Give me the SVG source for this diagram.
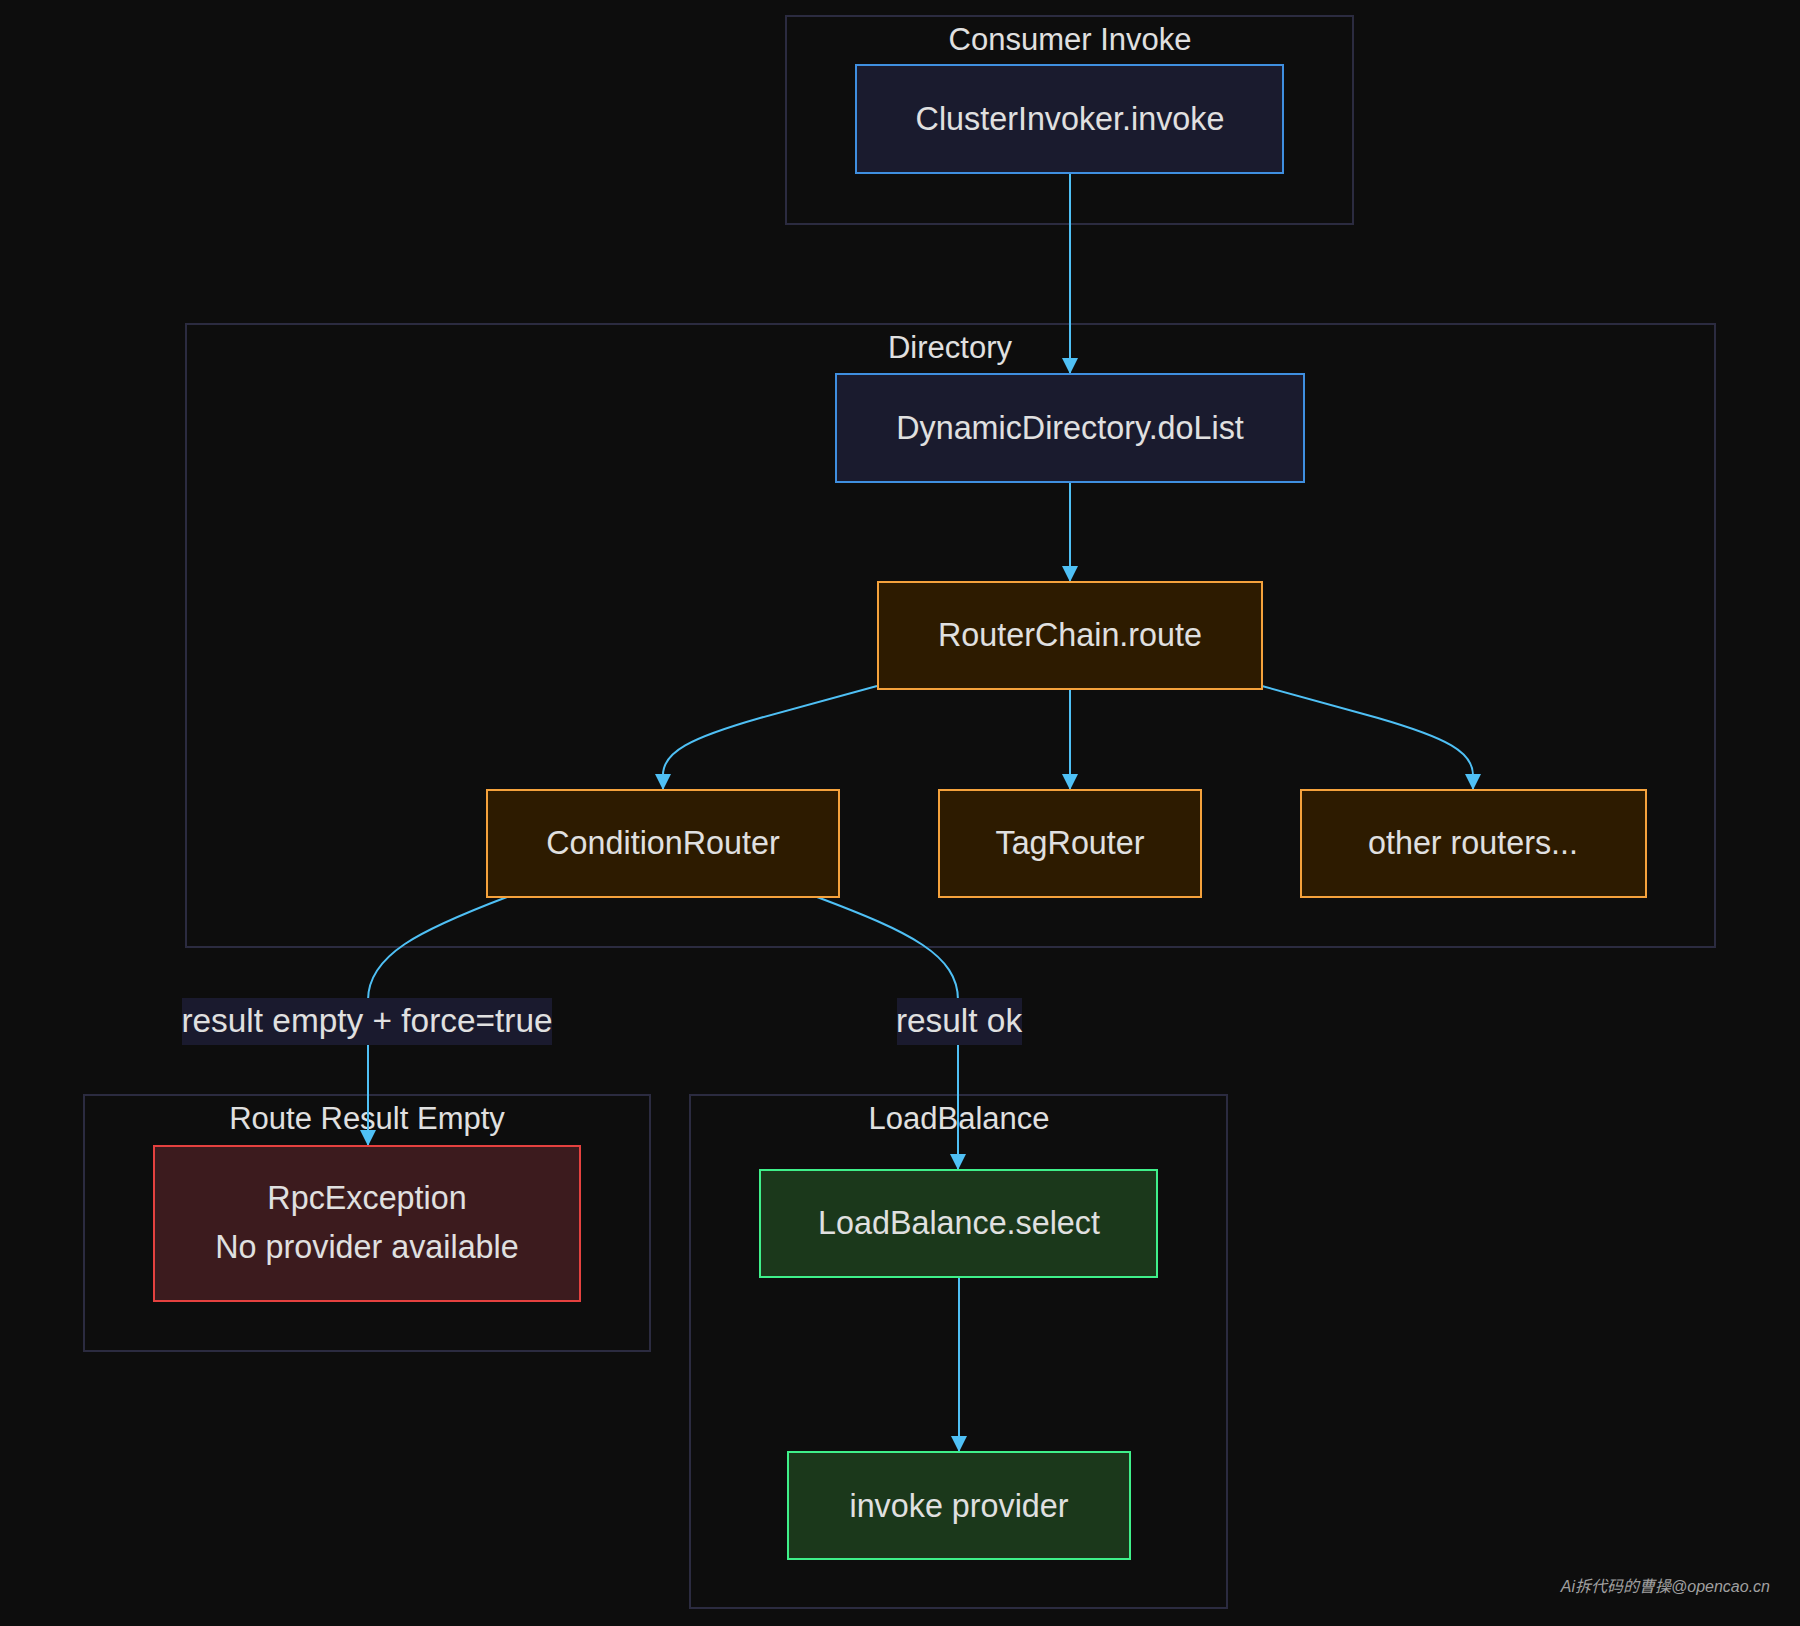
<svg xmlns="http://www.w3.org/2000/svg" width="1800" height="1626" viewBox="0 0 1800 1626">
  <defs>
    <style>
      .bg { fill: #0d0d0d; }
      .cluster rect { fill: #0d0d0d; stroke: #2b2b40; stroke-width: 2; }
      .cluster text { fill: #e0e0e0; font-family: "Liberation Sans", Arial, sans-serif; font-size: 31px; text-anchor: middle; }
      .node text { fill: #e0e0e0; font-family: "Liberation Sans", Arial, sans-serif; font-size: 32.3px; text-anchor: middle; }
      .blue rect { fill: #1a1b2e; stroke: #3f8fe0; stroke-width: 2; }
      .orange rect { fill: #2d1b00; stroke: #f5a23c; stroke-width: 2; }
      .red rect { fill: #3c1b1e; stroke: #e5413f; stroke-width: 2; }
      .green rect { fill: #1b381b; stroke: #3ff08a; stroke-width: 2; }
      .edge { fill: none; stroke: #4fc0f5; stroke-width: 2; marker-end: url(#arrow); }
      .elabel rect { fill: #1a1a2e; }
      .elabel text { fill: #e0e0e0; font-family: "Liberation Sans", Arial, sans-serif; font-size: 33.4px; text-anchor: middle; }
      .mark { fill: #a0a0a0; font-family: "Liberation Sans", "Noto Sans CJK SC", sans-serif; font-size: 16px; font-style: italic; text-anchor: end; }
    </style>
    <marker id="arrow" viewBox="0 0 10 10" refX="10" refY="5" markerUnits="userSpaceOnUse" markerWidth="16" markerHeight="17" orient="auto">
      <path d="M0,0 L10,5 L0,10 z" fill="#4fc0f5"/>
    </marker>
  </defs>

  <rect class="bg" x="0" y="0" width="1800" height="1626"/>

  <!-- subgraphs -->
  <g id="cluster-consumer" class="cluster">
    <rect x="786" y="16" width="567" height="208"/>
    <text x="1070" y="50">Consumer Invoke</text>
  </g>
  <g id="cluster-directory" class="cluster">
    <rect x="186" y="324" width="1529" height="623"/>
    <text x="950" y="358">Directory</text>
  </g>
  <g id="cluster-empty" class="cluster">
    <rect x="84" y="1095" width="566" height="256"/>
    <text x="367" y="1129">Route Result Empty</text>
  </g>
  <g id="cluster-loadbalance" class="cluster">
    <rect x="690" y="1095" width="537" height="513"/>
    <text x="959" y="1129">LoadBalance</text>
  </g>

  <!-- connectors -->
  <g id="edges">
    <path class="edge" d="M1070,173 L1070,374"/>
    <path class="edge" d="M1070,482 L1070,582"/>
    <path class="edge" d="M877,686 L760,718 C690,738 663,752 663,775 L663,790"/>
    <path class="edge" d="M1070,689 L1070,790"/>
    <path class="edge" d="M1262,686 L1378,718 C1447,738 1473,752 1473,775 L1473,790"/>
    <path class="edge" d="M507,897 C420,930 368,955 368,1000 L368,1146"/>
    <path class="edge" d="M817,897 C910,932 958,955 958,1000 L958,1170"/>
    <path class="edge" d="M959,1277 L959,1452"/>
  </g>

  <!-- edge labels -->
  <g id="edge-labels">
    <g class="elabel">
      <rect x="182" y="998" width="370" height="47"/>
      <text x="367" y="1032">result empty + force=true</text>
    </g>
    <g class="elabel">
      <rect x="897" y="998" width="125" height="47"/>
      <text x="959" y="1032">result ok</text>
    </g>
  </g>

  <!-- nodes -->
  <g id="ClusterInvoker" class="node blue">
    <rect x="856" y="65" width="427" height="108"/>
    <text x="1070" y="130">ClusterInvoker.invoke</text>
  </g>
  <g id="DynamicDirectory" class="node blue">
    <rect x="836" y="374" width="468" height="108"/>
    <text x="1070" y="439">DynamicDirectory.doList</text>
  </g>
  <g id="RouterChain" class="node orange">
    <rect x="878" y="582" width="384" height="107"/>
    <text x="1070" y="646">RouterChain.route</text>
  </g>
  <g id="ConditionRouter" class="node orange">
    <rect x="487" y="790" width="352" height="107"/>
    <text x="663" y="854">ConditionRouter</text>
  </g>
  <g id="TagRouter" class="node orange">
    <rect x="939" y="790" width="262" height="107"/>
    <text x="1070" y="854">TagRouter</text>
  </g>
  <g id="OtherRouters" class="node orange">
    <rect x="1301" y="790" width="345" height="107"/>
    <text x="1473" y="854">other routers...</text>
  </g>
  <g id="RpcException" class="node red">
    <rect x="154" y="1146" width="426" height="155"/>
    <text x="367" y="1209">RpcException</text>
    <text x="367" y="1258">No provider available</text>
  </g>
  <g id="LoadBalanceSelect" class="node green">
    <rect x="760" y="1170" width="397" height="107"/>
    <text x="959" y="1234">LoadBalance.select</text>
  </g>
  <g id="InvokeProvider" class="node green">
    <rect x="788" y="1452" width="342" height="107"/>
    <text x="959" y="1517">invoke provider</text>
  </g>

  <text class="mark" x="1770" y="1592">Ai拆代码的曹操@opencao.cn</text>
</svg>
